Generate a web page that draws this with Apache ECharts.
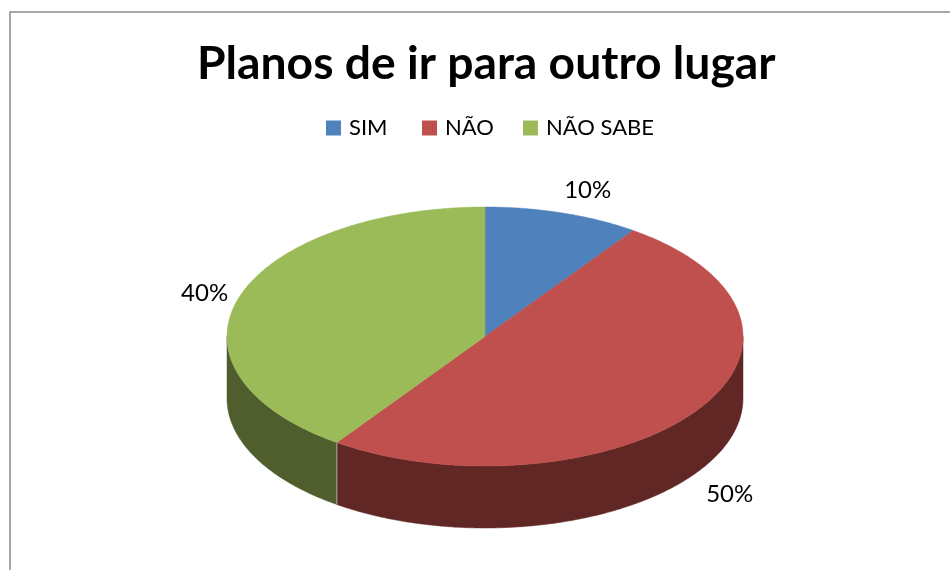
<!DOCTYPE html>
<html>
<head>
<meta charset="utf-8">
<style>html,body{margin:0;padding:0;background:#fff}#c{width:950px;height:570px}</style>
<script src="https://cdn.jsdelivr.net/npm/echarts@6/dist/echarts.min.js"></script>
</head>
<body>
<div id="c"></div>
<script>
var titleText = 'Planos de ir para outro lugar';
var categories = ['SIM', 'NÃO', 'NÃO SABE'];
var values = [10, 50, 40];
var topColors = ['#4f81bd', '#c0504d', '#9bbb59'];
var sideColors = ['#2f4d71', '#602725', '#4f5e2c'];

var FONT = 'Lato, "Open Sans", sans-serif';
var CX = 485, CY = 336.5, RX = 258, RY = 129.5, DEPTH = 62;
var labelOffsets = [[23, -23], [36, 82], [-35, -3.5]];
var legendLefts = [326, 422, 523];

var total = values.reduce(function (a, b) { return a + b; }, 0);

// slight perspective shift of slice boundaries, as in a tilted 3D pie
function tilt(deg) { return deg - Math.sin(2 * deg * Math.PI / 180); }
function ellipsePoint(deg, dy) {
  var r = deg * Math.PI / 180;
  return [CX + RX * Math.sin(r), CY + dy - RY * Math.cos(r)];
}
function arcPoints(a0, a1, dy) {
  var pts = [], n = Math.max(2, Math.ceil(Math.abs(a1 - a0) * 2));
  for (var i = 0; i <= n; i++) pts.push(ellipsePoint(a0 + (a1 - a0) * i / n, dy));
  return pts;
}

function makeRender(idx) {
  return function (params, api) {
    var before = 0;
    for (var i = 0; i < idx; i++) before += values[i];
    var v = api.value(0);
    var raw0 = before / total * 360, raw1 = (before + v) / total * 360;
    var a0 = tilt(raw0), a1 = tilt(raw1);
    var children = [];
    // visible rim: front half of the disc only (90deg .. 270deg clockwise from top)
    var s0 = Math.max(a0, 90), s1 = Math.min(a1, 270);
    if (s1 > s0) {
      children.push({
        type: 'polygon', z2: 1,
        shape: { points: arcPoints(s0, s1, 0).concat(arcPoints(s1, s0, DEPTH)) },
        style: { fill: sideColors[idx], stroke: sideColors[idx], lineWidth: 0.5 }
      });
      if (a0 > 90 && a0 < 270) {
        children.push({
          type: 'polyline', z2: 3,
          shape: { points: [ellipsePoint(a0, 0), ellipsePoint(a0, DEPTH)] },
          style: { fill: null, stroke: '#a9a9a0', lineWidth: 1 }
        });
      }
    }
    children.push({
      type: 'polygon', z2: 2,
      shape: { points: [[CX, CY]].concat(arcPoints(a0, a1, 0)) },
      style: { fill: topColors[idx], stroke: topColors[idx], lineWidth: 0.5 }
    });
    var mid = ellipsePoint((raw0 + raw1) / 2, 0);
    children.push({
      type: 'text', z2: 4,
      x: mid[0] + labelOffsets[idx][0],
      y: mid[1] + labelOffsets[idx][1],
      style: {
        text: Math.round(v / total * 100) + '%',
        fill: '#000', font: '24px ' + FONT,
        textAlign: 'center', textVerticalAlign: 'middle'
      }
    });
    return { type: 'group', children: children };
  };
}

var chart = echarts.init(document.getElementById('c'), null, { renderer: 'canvas' });
chart.setOption({
  animation: false,
  backgroundColor: '#ffffff',
  title: {
    text: titleText, left: 197, top: 41, padding: 0,
    textStyle: { fontFamily: FONT, fontWeight: 'bold', fontSize: 46.25, color: '#000' }
  },
  legend: categories.map(function (name, i) {
    return {
      left: legendLefts[i], top: 117, padding: 0,
      data: [name],
      icon: 'rect', itemWidth: 15, itemHeight: 15, itemStyle: { borderWidth: 0 },
      selectedMode: false,
      textStyle: { fontFamily: FONT, fontSize: 22, color: '#000', padding: [0, 0, 0, 3] }
    };
  }),
  graphic: [{
    type: 'rect', silent: true, z: -1,
    shape: { x: 10, y: 12, width: 1200, height: 900 },
    style: { fill: null, stroke: '#8c8c8c', lineWidth: 1.5 }
  }],
  series: categories.map(function (name, i) {
    return {
      type: 'custom', name: name, coordinateSystem: 'none',
      itemStyle: { color: topColors[i] },
      data: [[values[i]]],
      renderItem: makeRender(i)
    };
  })
});
</script>
</body>
</html>
